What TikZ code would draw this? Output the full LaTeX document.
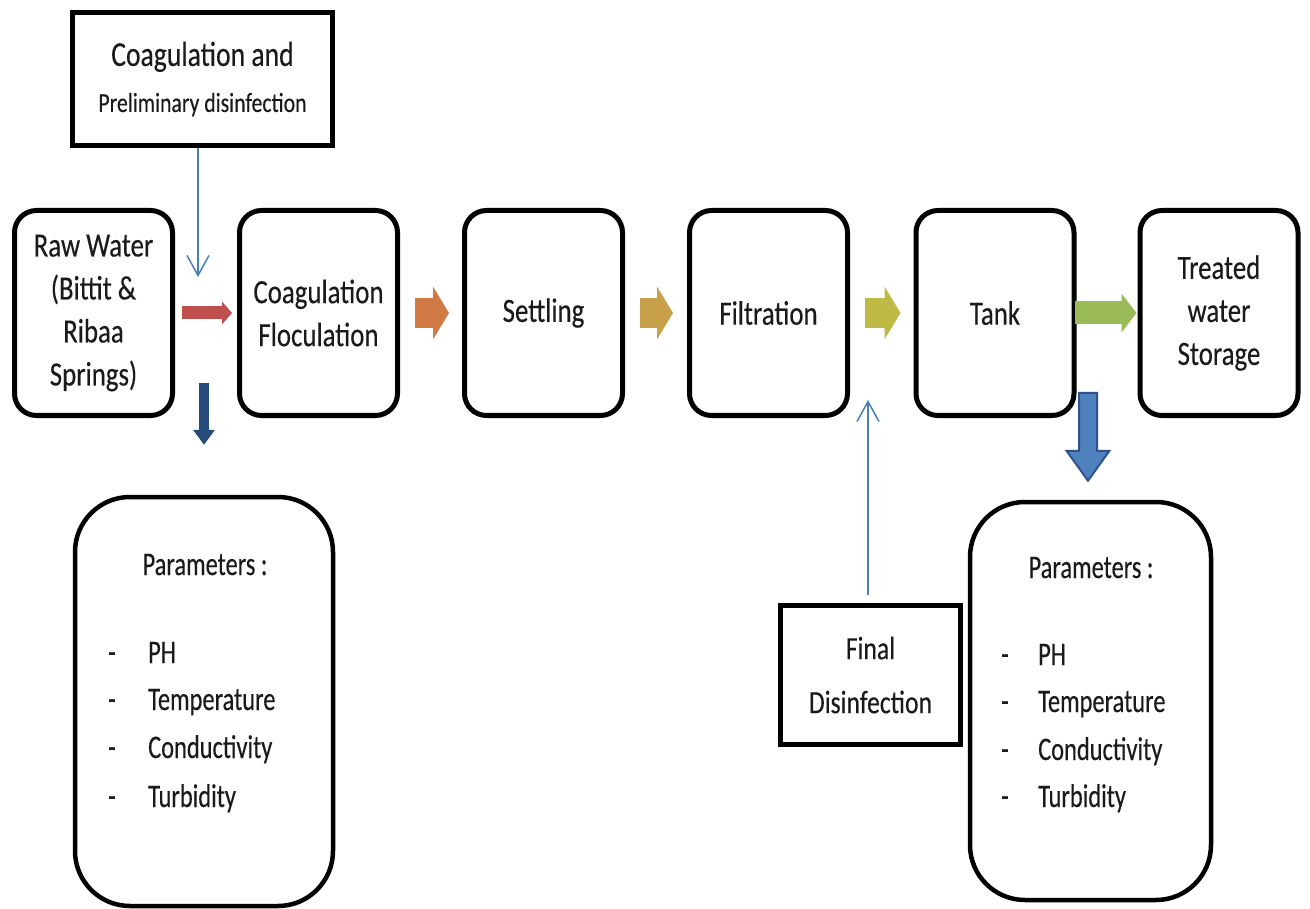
\documentclass[tikz,border=0pt]{standalone}
\usepackage{fontspec}
\setmainfont{Carlito}[FakeStretch=0.79, FakeBold=0.3]
\newfontfamily\pfont{Carlito}[FakeStretch=0.74, FakeBold=0.3]
\usetikzlibrary{arrows.meta,calc}
\definecolor{cred}{HTML}{C0504D}
\definecolor{corange}{HTML}{D27A46}
\definecolor{cgold}{HTML}{C9A04A}
\definecolor{colive}{HTML}{BFBA45}
\definecolor{cgreen}{HTML}{9BBB59}
\definecolor{cnavy}{HTML}{244B7A}
\definecolor{bfill}{HTML}{4F81BD}
\definecolor{bborder}{HTML}{2F528F}
\definecolor{thinblue}{HTML}{4A7EBB}
\definecolor{txt}{HTML}{1A1A1A}
\begin{document}
\begin{tikzpicture}[x=1pt,y=-1pt,
  proc/.style={draw=black, line width=5pt, rounded corners=22pt, minimum width=158pt, minimum height=205pt, inner sep=0pt, align=center, text=txt, font=\fontsize{34}{43}\selectfont},
  tbox/.style={draw=black, line width=5.5pt, inner sep=0pt, align=center, text=txt},
  parbox/.style={draw=black, line width=4.5pt, rounded corners=55pt, inner sep=0pt},
  ptext/.style={font=\pfont\fontsize{33}{35}\selectfont, inner sep=0pt, text=txt},
  blockflow/.style n args={5}{draw=#1, line width=#2, -{Triangle[length=#4, width=#3, line width=0pt]}, shorten <=#5},
  thinflow/.style={draw=thinblue, line width=1.5pt, -{Straight Barb[length=20pt, width=22pt]}}
]
\useasboundingbox (0,0) rectangle (1310,909);

% main process boxes
\node[proc] (raw)    at (93.5,313) {Raw Water\\(Bittit \&\\Ribaa\\Springs)};
\node[proc] (coag)   at (318.5,313) {Coagulation\\Floculation};
\node[proc] (settle) at (543.5,313) {Settling};
\node[proc] (filt)   at (768.5,313) {Filtration};
\node[proc] (tank)   at (995,313) {Tank};
\node[proc] (treat)  at (1219,313) {Treated\\water\\Storage};

% top injection box
\node[tbox, minimum width=260pt, minimum height=133pt, font=\fontsize{35}{46}\selectfont] (pre) at (202.5,79)
  {Coagulation and\\{\fontsize{27.5}{46}\selectfont Preliminary disinfection}};

% final disinfection box
\node[tbox, minimum width=180pt, minimum height=139pt, font=\fontsize{32.5}{54}\selectfont] (fin) at (870.5,675)
  {Final\\Disinfection};

% parameter boxes
\node[parbox, minimum width=258pt, minimum height=409pt] (p1) at (204,701.5) {};
\node[parbox, minimum width=241pt, minimum height=398pt] (p2) at (1090.5,701) {};

% parameter texts (left)
\node[ptext, anchor=base] (p1t) at (205,575) {Parameters :};
\foreach \y/\t [count=\i] in {663/PH,710/Temperature,758/Conductivity,807/Turbidity}{
  \node[ptext, anchor=base] (p1d\i) at (112,\y) {-};
  \node[ptext, anchor=base west] (p1i\i) at (148,\y) {\t};
}
% parameter texts (right)
\node[ptext, anchor=base] (p2t) at (1091,578) {Parameters :};
\foreach \y/\t [count=\i] in {665/PH,712/Temperature,760/Conductivity,807/Turbidity}{
  \node[ptext, anchor=base] (p2d\i) at (1005,\y) {-};
  \node[ptext, anchor=base west] (p2i\i) at (1038,\y) {\t};
}

% block flow arrows between process boxes
\draw[blockflow={cred}{13pt}{23pt}{10pt}{7pt}, shorten >=5pt] (raw.east) -- (coag.west);
\draw[blockflow={corange}{30pt}{53pt}{16pt}{15pt}, shorten >=13pt] (coag.east) -- (settle.west);
\draw[blockflow={cgold}{30pt}{53pt}{16pt}{15pt}, shorten >=14pt] (settle.east) -- (filt.west);
\draw[blockflow={colive}{30pt}{53pt}{16pt}{15pt}, shorten >=13pt] (filt.east) -- (tank.west);
\draw[blockflow={cgreen}{23pt}{39pt}{15pt}{-2pt}, shorten >=1pt] (tank.east) -- (treat.west);

% thin injection arrows
\coordinate (inj1) at (198,277);
\draw[thinflow] (pre.south -| inj1) -- (inj1);
\coordinate (inj2) at (868,400);
\draw[thinflow, shorten <=8pt] (fin.north -| inj2) -- (inj2);

% navy arrow down to left parameters
\coordinate (n1) at (204,383);
\draw[draw=cnavy, line width=10pt, -{Triangle[length=15pt, width=22pt, line width=0pt]}, shorten >=50pt] (n1) -- (p1.north);

% blue bordered block arrow down to right parameters
\coordinate (b1) at (1088,393);
\coordinate (b2) at ($(p2.north)+(-2.5,-19)$);
\draw[fill=bfill, draw=bborder, line width=2pt, line join=miter]
  ($(b1)+(-9,0)$) -- ($(b1)+(9,0)$) -- ($(b2)+(9,-30)$) -- ($(b2)+(21.5,-30)$) -- (b2)
  -- ($(b2)+(-21.5,-30)$) -- ($(b2)+(-9,-30)$) -- cycle;
\end{tikzpicture}
\end{document}
